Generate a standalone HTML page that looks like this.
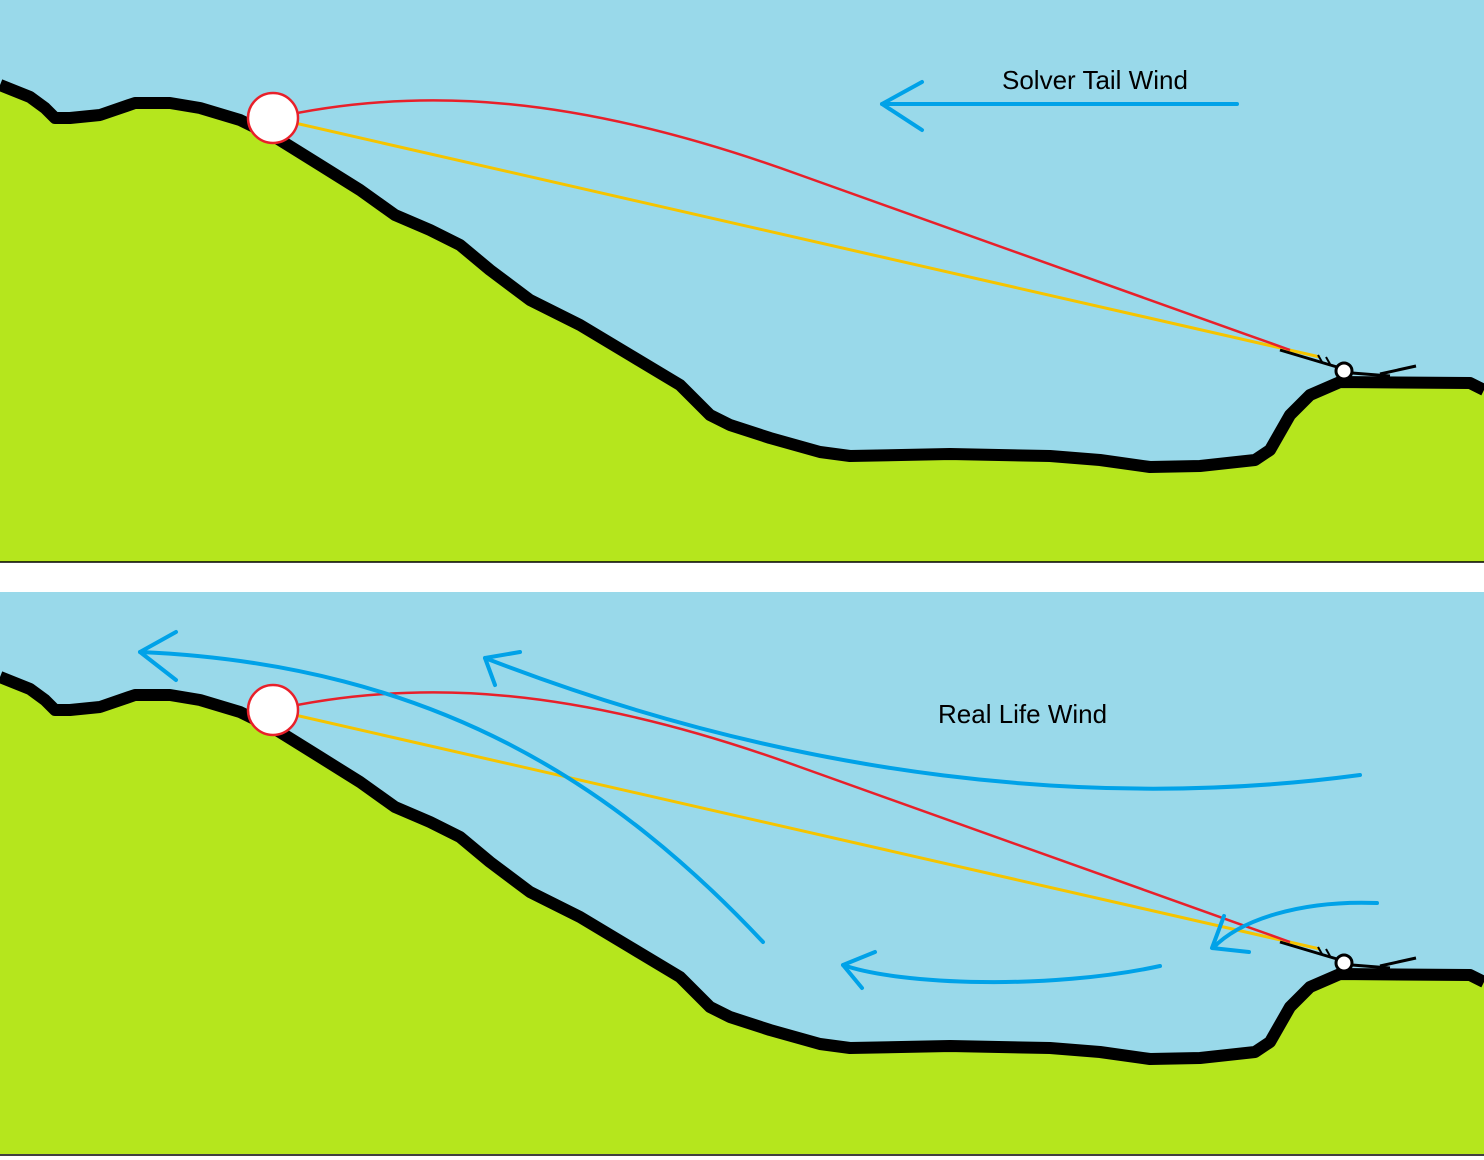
<!DOCTYPE html>
<html><head><meta charset="utf-8"><style>
html,body{margin:0;padding:0;background:#fff;width:1484px;height:1160px;overflow:hidden}
svg{display:block}
text{font-family:"Liberation Sans",sans-serif;font-size:26px;fill:#000}
</style></head><body>
<svg width="1484" height="1160" viewBox="0 0 1484 1160" xmlns="http://www.w3.org/2000/svg">
<defs>
<g id="scene">
<rect x="0" y="0" width="1484" height="562" fill="#99d9ea"/>
<path d="M0,85 L30,97 L45,108 L55,118 L70,118 L100,115 L135,103 L170,103 L200,108 L240,120 L275,137 L320,165 L360,190 L395,215 L430,230 L460,245 L490,270 L530,300 L580,325 L630,355 L680,385 L710,415 L730,425 L770,438 L820,452 L850,456 L950,454 L1050,456 L1100,460 L1150,467 L1200,466 L1255,460 L1270,450 L1290,415 L1310,395 L1340,382 L1470,383 L1484,390 L1484,562 L0,562 Z" fill="#b5e61d"/>
<path d="M0,85 L30,97 L45,108 L55,118 L70,118 L100,115 L135,103 L170,103 L200,108 L240,120 L275,137 L320,165 L360,190 L395,215 L430,230 L460,245 L490,270 L530,300 L580,325 L630,355 L680,385 L710,415 L730,425 L770,438 L820,452 L850,456 L950,454 L1050,456 L1100,460 L1150,467 L1200,466 L1255,460 L1270,450 L1290,415 L1310,395 L1340,382 L1470,383 L1484,390" fill="none" stroke="#000" stroke-width="12" stroke-linejoin="round"/>
<line x1="273" y1="118" x2="1320" y2="357" stroke="#f5c400" stroke-width="3"/>
<path d="M273,118 C420,85 580,95 800,175 S1150,300 1290,350" fill="none" stroke="#e8202a" stroke-width="2.5"/>
<line x1="1280" y1="350" x2="1337" y2="367" stroke="#000" stroke-width="3"/>
<line x1="1318" y1="355" x2="1322" y2="362" stroke="#000" stroke-width="2"/>
<line x1="1326" y1="357" x2="1330" y2="364" stroke="#000" stroke-width="2"/>
<line x1="1352" y1="373" x2="1390" y2="376" stroke="#000" stroke-width="3"/>
<line x1="1380" y1="374" x2="1416" y2="366" stroke="#000" stroke-width="3"/>
<circle cx="1344" cy="371" r="8" fill="#fff" stroke="#000" stroke-width="3"/>
<circle cx="273" cy="118" r="25" fill="#fff" stroke="#e8202a" stroke-width="2.5"/>
</g>
</defs>
<use href="#scene"/>
<line x1="0" y1="562" x2="1484" y2="562" stroke="#000" stroke-width="1.5"/>
<use href="#scene" transform="translate(0,592)"/>
<line x1="0" y1="1155" x2="1484" y2="1155" stroke="#000" stroke-width="1.5"/>
<g fill="none" stroke="#00a2e8" stroke-width="4" stroke-linecap="round" stroke-linejoin="round">
<line x1="882" y1="104" x2="1237" y2="104"/>
<polyline points="922,82 882,104 922,130"/>
<path d="M763,942 C620,790 440,665 140,652"/>
<polyline points="176,632 140,652 176,680"/>
<path d="M1360,775 C1100,810 800,780 485,658"/>
<polyline points="520,652 485,658 495,685"/>
<path d="M1377,903 C1300,900 1240,920 1213,948"/>
<polyline points="1224,916 1212,948 1249,952"/>
<path d="M1160,966 C1050,990 900,985 843,965"/>
<polyline points="875,952 843,965 862,988"/>
</g>
<text x="1002" y="89">Solver Tail Wind</text>
<text x="938" y="723">Real Life Wind</text>
</svg>
</body></html>
